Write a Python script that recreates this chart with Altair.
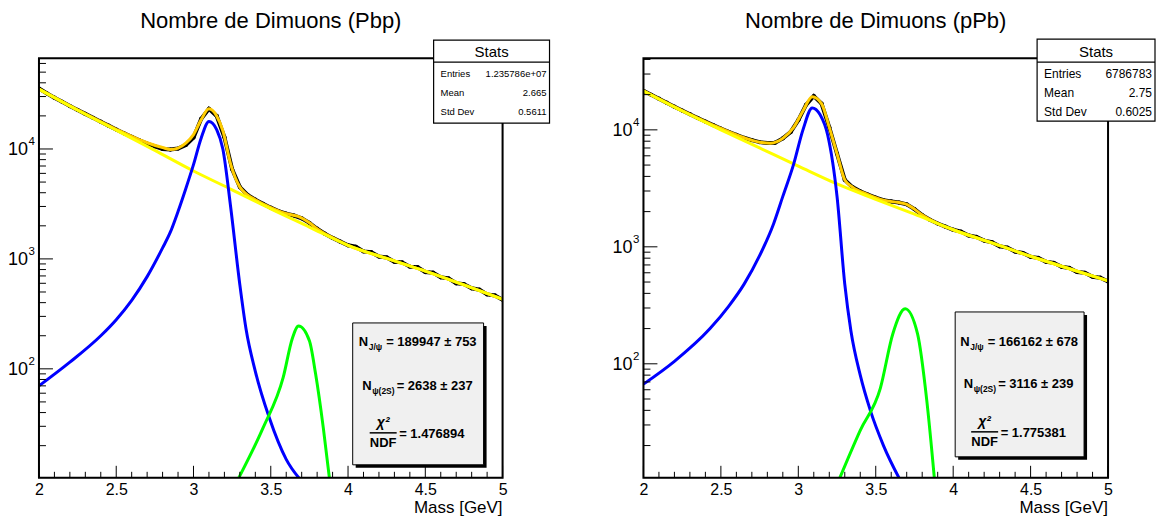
import altair as alt
import pandas as pd

FONT = "Liberation Sans"

# ---------------- shared tick positions ----------------
X_MAJOR = [2, 2.5, 3, 3.5, 4, 4.5, 5]
X_MINOR = [2.1, 2.2, 2.3, 2.4, 2.6, 2.7, 2.8, 2.9, 3.1, 3.2, 3.3, 3.4, 3.6, 3.7, 3.8, 3.9,
           4.1, 4.2, 4.3, 4.4, 4.6, 4.7, 4.8, 4.9]
Y_MAJOR = [100, 1000, 10000]
Y_EXP = ["2", "3", "4"]
Y_MINOR = [20, 30, 40, 50, 60, 70, 80, 90, 200, 300, 400, 500, 600, 700, 800, 900,
           2000, 3000, 4000, 5000, 6000, 7000, 8000, 9000, 20000, 30000, 40000, 50000, 60000]

BIN_MASS = [2.00, 2.05, 2.10, 2.15, 2.20, 2.25, 2.30, 2.35, 2.40, 2.45, 2.50, 2.55, 2.60, 2.65,
            2.70, 2.75, 2.80, 2.85, 2.90, 2.95, 3.00, 3.05, 3.10, 3.15, 3.20, 3.25, 3.30, 3.35,
            3.40, 3.45, 3.50, 3.55, 3.60, 3.65, 3.70, 3.75, 3.80, 3.85, 3.90, 3.95, 4.00, 4.05,
            4.10, 4.15, 4.20, 4.25, 4.30, 4.35, 4.40, 4.45, 4.50, 4.55, 4.60, 4.65, 4.70, 4.75,
            4.80, 4.85, 4.90, 4.95, 5.00]

# ---------------- left panel (Pbp) ----------------
L_DATA = [35500, 32100, 29300, 26850, 24550, 22650, 20850, 19200, 17700, 16300, 15040, 13900,
          12900, 11980, 11210, 10550, 10000, 9870, 10090, 10870, 12700, 18800, 23180, 19970,
          12800, 6550, 4500, 3820, 3455, 3170, 2925, 2725, 2576, 2482, 2340, 2130, 1882, 1697,
          1552, 1436, 1330, 1290, 1170, 1150, 1050, 1030, 940, 930, 850, 840, 760, 750, 680,
          665, 600, 590, 540, 525, 475, 465, 425]
L_TOT_M = [2.0, 2.25, 2.5, 2.6, 2.7, 2.8, 2.85, 2.9, 2.95, 3.0, 3.05, 3.1, 3.15, 3.19, 3.24, 3.3,
           3.34, 3.4, 3.5, 3.58, 3.64, 3.68, 3.75, 3.79, 3.84, 3.88, 4.0, 4.25, 4.5, 4.75, 5.0]
L_TOT_V = [35070, 22650, 15100, 13000, 11400, 10300, 9900, 10200, 11300, 13500, 18500, 23180,
           19970, 14660, 7310, 4500, 3910, 3455, 2925, 2630, 2507, 2425, 2130, 1925, 1730, 1610,
           1330, 1010, 775, 580, 430]
L_BKG_M = [2.0, 2.25, 2.5, 2.75, 3.0, 3.25, 3.5, 3.75, 4.0, 4.25, 4.5, 4.75, 5.0]
L_BKG_V = [35000, 22500, 14800, 9700, 6300, 4250, 2850, 1950, 1330, 1010, 775, 580, 430]
L_JPSI_M = [2.0, 2.2, 2.4, 2.5, 2.6, 2.7, 2.8, 2.85, 2.9, 2.95, 3.0, 3.05, 3.1, 3.15, 3.19, 3.24,
            3.3, 3.34, 3.4, 3.49, 3.6, 3.7]
L_JPSI_V = [70, 115, 200, 280, 420, 690, 1260, 1750, 2700, 4350, 7200, 12600, 17800, 15000,
            10000, 3000, 580, 230, 95, 36, 15, 9.5]
L_PSI2_M = [3.29, 3.45, 3.58, 3.64, 3.68, 3.75, 3.79, 3.84, 3.88]
L_PSI2_V = [10, 29, 83, 190, 245, 180, 90, 29, 10]
L_YDOM = [10.2, 67000]
L_STATS = ["1.235786e+07", "2.665", "0.5611"]
L_FIT = ["= 189947 \u00b1 753", "= 2638 \u00b1 237", "= 1.476894"]

# ---------------- right panel (pPb) ----------------
R_DATA = [21570, 19935, 18450, 17055, 15775, 14620, 13600, 12635, 11775, 10985, 10270, 9630,
          9070, 8560, 8170, 7850, 7720, 7770, 8450, 9560, 12100, 16370, 19460, 16770, 10500,
          6250, 3735, 3240, 2984, 2800, 2638, 2504, 2443, 2390, 2311, 2100, 1868, 1702, 1582,
          1488, 1400, 1350, 1250, 1215, 1130, 1095, 1010, 985, 910, 885, 820, 805, 745, 730,
          675, 660, 610, 600, 555, 545, 505]
R_TOT_M = [2.0, 2.25, 2.5, 2.65, 2.75, 2.82, 2.9, 2.97, 3.03, 3.09, 3.15, 3.2, 3.25, 3.3, 3.35,
           3.45, 3.55, 3.65, 3.7, 3.75, 3.8, 3.9, 4.0, 4.25, 4.5, 4.75, 5.0]
R_TOT_V = [21570, 14620, 10270, 8560, 7850, 7700, 8450, 10500, 14500, 19200, 16770, 10500, 6250,
           3735, 3240, 2800, 2504, 2390, 2311, 2100, 1868, 1582, 1400, 1080, 830, 650, 512]
R_BKG_M = [2.0, 2.25, 2.5, 2.75, 3.0, 3.25, 3.5, 3.75, 4.0, 4.25, 4.5, 4.75, 5.0]
R_BKG_V = [21500, 14500, 10000, 7000, 4900, 3450, 2550, 1900, 1400, 1080, 830, 650, 512]
R_JPSI_M = [2.0, 2.2, 2.43, 2.55, 2.65, 2.75, 2.84, 2.9, 2.97, 3.03, 3.09, 3.14, 3.19, 3.25, 3.3,
            3.34, 3.4, 3.465, 3.55, 3.66]
R_JPSI_V = [67, 105, 200, 310, 480, 840, 1570, 2700, 5100, 10000, 15400, 13500, 9000, 2700, 480,
            190, 80, 40, 20, 10]
R_PSI2_M = [3.26, 3.4, 3.53, 3.61, 3.69, 3.77, 3.83, 3.88]
R_PSI2_V = [10, 27, 62, 180, 295, 180, 48, 10]
R_YDOM = [10.6, 41000]
R_STATS = ["6786783", "2.75", "0.6025"]
R_FIT = ["= 166162 \u00b1 678", "= 3116 \u00b1 239", "= 1.775381"]

H = 420
ONE = pd.DataFrame({"a": [0]})


def txt(x, y, s, size, weight="normal", align="left", baseline="middle", style="normal"):
    return alt.Chart(ONE).mark_text(
        font=FONT, fontSize=size, fontWeight=weight, align=align, baseline=baseline,
        fontStyle=style, color="black").encode(x=alt.value(x), y=alt.value(y), text=alt.value(s))


def box(x0, x1, y0, y1, fill, stroke="black", sw=1.0):
    return alt.Chart(ONE).mark_rect(fill=fill, stroke=stroke, strokeWidth=sw).encode(
        x=alt.value(x0), x2=alt.value(x1), y=alt.value(y0), y2=alt.value(y1))


def hline(x0, x1, y, sw=1.0):
    return alt.Chart(ONE).mark_rule(color="black", strokeWidth=sw).encode(
        x=alt.value(x0), x2=alt.value(x1), y=alt.value(y))


def panel(W, title, data, tm, tv, bm, bv, jm, jv, pm, pv, ydom, stats, stats_font,
          sbox, fbox, fit, fit_cx, fit_y, anchor=False):
    xs = alt.Scale(domain=[2, 5], nice=False, zero=False)
    ys = alt.Scale(type="log", domain=ydom, nice=False, zero=False)
    xaxis = alt.Axis(values=X_MAJOR, format="~g", labelFontSize=16, labelFont=FONT,
                     labelColor="black", ticks=False, tickSize=0, domain=False, grid=False,
                     title=None, labelPadding=4, labelFlush=False)
    X = lambda f: alt.X(f, scale=xs, axis=xaxis)
    Y = lambda f: alt.Y(f, scale=ys, axis=None)

    def curve(m, v, color, width):
        df = pd.DataFrame({"m": m, "v": v})
        return alt.Chart(df).mark_line(color=color, strokeWidth=width, clip=True,
                                       interpolate="monotone").encode(x=X("m:Q"), y=Y("v:Q"))

    ddf = pd.DataFrame({"m": BIN_MASS, "v": data})
    data_line = alt.Chart(ddf).mark_line(color="black", strokeWidth=4, clip=True).encode(
        x=X("m:Q"), y=Y("v:Q"))
    data_pts = alt.Chart(ddf).mark_point(color="black", filled=True, size=18, opacity=1,
                                         clip=True).encode(x=X("m:Q"), y=Y("v:Q"))

    def xticks(vals, ln):
        return alt.Chart(pd.DataFrame({"m": vals})).mark_rule(color="black", strokeWidth=1).encode(
            x=X("m:Q"), y=alt.value(H), y2=alt.value(H - ln))

    def yticks(vals, ln):
        vals = [v for v in vals if ydom[0] <= v <= ydom[1]]
        return alt.Chart(pd.DataFrame({"v": vals})).mark_rule(color="black", strokeWidth=1).encode(
            y=Y("v:Q"), x=alt.value(0), x2=alt.value(ln))

    # y labels 10^n drawn as base + superscript
    ylab = pd.DataFrame({"v": Y_MAJOR, "e": Y_EXP})
    ybase = alt.Chart(ylab).mark_text(font=FONT, fontSize=18, align="right", baseline="middle",
                                      color="black", dy=1).encode(
        y=Y("v:Q"), x=alt.value(-11), text=alt.value("10"))
    ysup = alt.Chart(ylab).mark_text(font=FONT, fontSize=11.5, align="left", baseline="middle",
                                     color="black", dy=-7).encode(
        y=Y("v:Q"), x=alt.value(-10.5), text="e:N")

    frame = alt.Chart(ONE).mark_rect(fillOpacity=0, stroke="black", strokeWidth=2).encode(
        x=alt.value(0), x2=alt.value(W), y=alt.value(0), y2=alt.value(H))

    layers = [data_line, data_pts,
              curve(tm, tv, "#ffcc00", 3),
              curve(bm, bv, "#ffff00", 3),
              curve(jm, jv, "#0000ff", 3),
              curve(pm, pv, "#00ff00", 3),
              xticks(X_MAJOR, 12), xticks(X_MINOR, 6),
              yticks(Y_MAJOR, 14), yticks(Y_MINOR, 7),
              ybase, ysup, frame]

    # stats box
    sx0, sx1, sy0, sy1, ssep = sbox
    layers += [box(sx0, sx1, sy0, sy1, "white", sw=1.2), hline(sx0, sx1, ssep, 1.2),
               txt((sx0 + sx1) / 2, (sy0 + ssep) / 2 + 1, "Stats", 15, align="center")]
    rows_y = [ssep + 12, ssep + 31, ssep + 50]
    for lab, val, yy in zip(["Entries", "Mean", "Std Dev"], stats, rows_y):
        layers += [txt(sx0 + 7, yy, lab, stats_font), txt(sx1 - 3, yy, val, stats_font, align="right")]

    # fit box
    fx0, fx1, fy0, fy1 = fbox
    layers += [box(fx0 + 3, fx1 + 3, fy0 + 3, fy1 + 3, "black", sw=0),
               box(fx0, fx1, fy0, fy1, "#f0f0f0", sw=1)]
    y1, y2, y3 = fit_y
    # line 1: N_{J/psi}
    n1 = fit_cx - 50
    layers += [txt(n1, y1, "N", 13, "bold", align="right"),
               txt(n1 + 0.5, y1 + 5, "J/\u03c8", 8.5, "bold"),
               txt(n1 + 18, y1, fit[0], 13, "bold")]
    # line 2: N_{psi(2S)}
    n2 = fit_cx - 46.5
    layers += [txt(n2, y2, "N", 13, "bold", align="right"),
               txt(n2 + 0.5, y2 + 5, "\u03c8(2S)", 8.5, "bold"),
               txt(n2 + 25, y2, fit[1], 13, "bold")]
    # line 3: chi2 / NDF
    fc = fit_cx - 35
    layers += [txt(fc, y3 - 10, "\u03c7\u00b2", 14, "bold", align="center", style="italic"),
               hline(fc - 13.5, fc + 13.5, y3, 1.5),
               txt(fc, y3 + 10, "NDF", 13, "bold", align="center"),
               txt(fc + 16, y3 + 1, fit[2], 13, "bold")]

    # titles
    layers += [txt(W / 2, -30, title, 22, align="center", baseline="alphabetic"),
               txt(W, 455, "Mass [GeV]", 17, align="right", baseline="alphabetic")]
    if anchor:
        layers.append(box(-38, -37, -57, -56, "white", stroke="white", sw=0))

    return alt.layer(*layers).properties(width=W, height=H)


left = panel(464, "Nombre de Dimuons (Pbp)", L_DATA, L_TOT_M, L_TOT_V, L_BKG_M, L_BKG_V,
             L_JPSI_M, L_JPSI_V, L_PSI2_M, L_PSI2_V, L_YDOM, L_STATS, 9.5,
             (395, 511, -18, 65, 4), (314, 445, 265, 407), L_FIT, 379.5, (284, 328, 375),
             anchor=True)
right = panel(465, "Nombre de Dimuons (pPb)", R_DATA, R_TOT_M, R_TOT_V, R_BKG_M, R_BKG_V,
              R_JPSI_M, R_JPSI_V, R_PSI2_M, R_PSI2_V, R_YDOM, R_STATS, 12,
              (394, 512, -19, 63, 4), (312, 441, 254, 399), R_FIT, 376.5, (284, 326, 374))

chart = alt.hconcat(left, right, spacing=141, bounds="flush", padding=0).configure_view(
    stroke=None).configure(font=FONT, background="white")

chart.save("out.html", embed_options={"renderer": "svg", "actions": False})
